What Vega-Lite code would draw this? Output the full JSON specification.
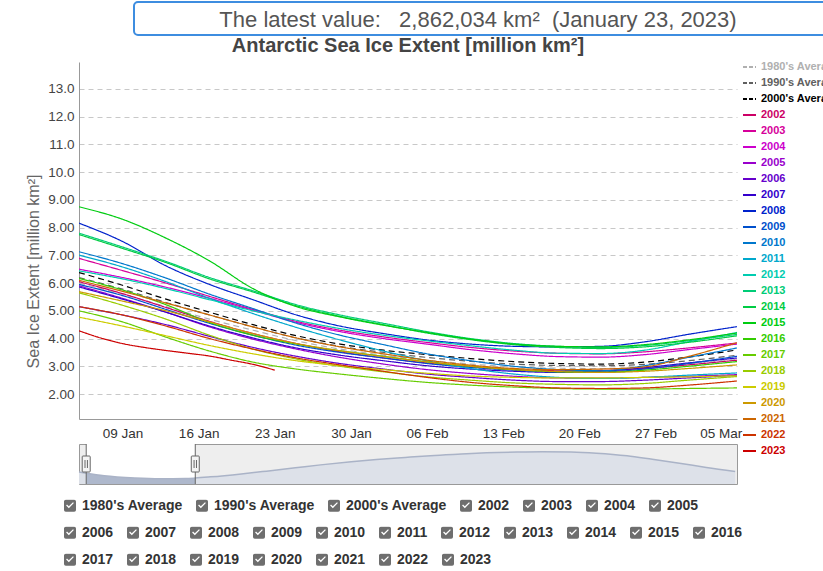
{
"$schema":"https://vega.github.io/schema/vega-lite/v6.json",
"autosize":{"type":"none"},
"padding":{"left":79,"top":2,"right":744,"bottom":569},
"background":"white",
"config":{"font":"Liberation Sans","view":{"stroke":null},"axis":{"labelFont":"Liberation Sans","titleFont":"Liberation Sans"},"legend":{"labelFont":"Liberation Sans"},"title":{"font":"Liberation Sans"},"text":{"font":"Liberation Sans"}},
"datasets":{
"hdr":[{"t":"The latest value:\u00a0\u00a0 2,862,034 km²\u00a0 (January 23, 2023)"}],
"boxes":[{"n":"1980's Average","r":1},{"n":"1990's Average","r":1},{"n":"2000's Average","r":1},{"n":"2002","r":1},{"n":"2003","r":1},{"n":"2004","r":1},{"n":"2005","r":1},{"n":"2006","r":2},{"n":"2007","r":2},{"n":"2008","r":2},{"n":"2009","r":2},{"n":"2010","r":2},{"n":"2011","r":2},{"n":"2012","r":2},{"n":"2013","r":2},{"n":"2014","r":2},{"n":"2015","r":2},{"n":"2016","r":2},{"n":"2017","r":3},{"n":"2018","r":3},{"n":"2019","r":3},{"n":"2020","r":3},{"n":"2021","r":3},{"n":"2022","r":3},{"n":"2023","r":3}],
"win":[{"a":"2023-01-05","b":"2023-03-06T12:00:00Z"}],
"hd":[{"d":"2023-01-05"},{"d":"2023-03-06T12:00:00Z"}],
"clim":[{"d":"2023-01-01","v":6.9},{"d":"2023-01-05","v":6.2},{"d":"2023-01-15","v":4.7},{"d":"2023-02-01","v":3.4},{"d":"2023-02-15","v":2.95},{"d":"2023-03-01","v":3.1},{"d":"2023-03-06T12:00:00Z","v":3.4},{"d":"2023-03-15","v":4.1},{"d":"2023-04-01","v":5.8},{"d":"2023-04-15","v":7.4},{"d":"2023-05-01","v":9.3},{"d":"2023-05-15","v":11.0},{"d":"2023-06-01","v":12.8},{"d":"2023-06-15","v":14.1},{"d":"2023-07-01","v":15.3},{"d":"2023-07-15","v":16.3},{"d":"2023-08-01","v":17.2},{"d":"2023-08-15","v":17.9},{"d":"2023-09-01","v":18.4},{"d":"2023-09-15","v":18.6},{"d":"2023-10-01","v":18.4},{"d":"2023-10-15","v":17.7},{"d":"2023-11-01","v":16.2},{"d":"2023-11-15","v":14.2},{"d":"2023-12-01","v":11.8},{"d":"2023-12-15","v":9.5},{"d":"2023-12-31","v":7.2}],
"ice":[
{"s":"1980's Average","d":"2023-01-05","v":6.00},{"s":"1980's Average","d":"2023-01-09","v":5.60},{"s":"1980's Average","d":"2023-01-13","v":5.15},{"s":"1980's Average","d":"2023-01-17","v":4.70},{"s":"1980's Average","d":"2023-01-21","v":4.30},{"s":"1980's Average","d":"2023-01-25","v":3.92},{"s":"1980's Average","d":"2023-01-29","v":3.62},{"s":"1980's Average","d":"2023-02-02","v":3.40},{"s":"1980's Average","d":"2023-02-06","v":3.22},{"s":"1980's Average","d":"2023-02-10","v":3.08},{"s":"1980's Average","d":"2023-02-14","v":2.98},{"s":"1980's Average","d":"2023-02-18","v":2.93},{"s":"1980's Average","d":"2023-02-22","v":2.92},{"s":"1980's Average","d":"2023-02-26","v":2.97},{"s":"1980's Average","d":"2023-03-02","v":3.08},{"s":"1980's Average","d":"2023-03-06T12:00:00Z","v":3.25},
{"s":"1990's Average","d":"2023-01-05","v":6.20},{"s":"1990's Average","d":"2023-01-09","v":5.78},{"s":"1990's Average","d":"2023-01-13","v":5.30},{"s":"1990's Average","d":"2023-01-17","v":4.85},{"s":"1990's Average","d":"2023-01-21","v":4.42},{"s":"1990's Average","d":"2023-01-25","v":4.02},{"s":"1990's Average","d":"2023-01-29","v":3.72},{"s":"1990's Average","d":"2023-02-02","v":3.50},{"s":"1990's Average","d":"2023-02-06","v":3.32},{"s":"1990's Average","d":"2023-02-10","v":3.18},{"s":"1990's Average","d":"2023-02-14","v":3.08},{"s":"1990's Average","d":"2023-02-18","v":3.03},{"s":"1990's Average","d":"2023-02-22","v":3.02},{"s":"1990's Average","d":"2023-02-26","v":3.07},{"s":"1990's Average","d":"2023-03-02","v":3.20},{"s":"1990's Average","d":"2023-03-06T12:00:00Z","v":3.40},
{"s":"2000's Average","d":"2023-01-05","v":6.38},{"s":"2000's Average","d":"2023-01-09","v":5.92},{"s":"2000's Average","d":"2023-01-13","v":5.42},{"s":"2000's Average","d":"2023-01-17","v":4.95},{"s":"2000's Average","d":"2023-01-21","v":4.50},{"s":"2000's Average","d":"2023-01-25","v":4.10},{"s":"2000's Average","d":"2023-01-29","v":3.80},{"s":"2000's Average","d":"2023-02-02","v":3.58},{"s":"2000's Average","d":"2023-02-06","v":3.42},{"s":"2000's Average","d":"2023-02-10","v":3.28},{"s":"2000's Average","d":"2023-02-14","v":3.17},{"s":"2000's Average","d":"2023-02-18","v":3.10},{"s":"2000's Average","d":"2023-02-22","v":3.08},{"s":"2000's Average","d":"2023-02-26","v":3.15},{"s":"2000's Average","d":"2023-03-02","v":3.33},{"s":"2000's Average","d":"2023-03-06T12:00:00Z","v":3.59},
{"s":"2002","d":"2023-01-05","v":6.05},{"s":"2002","d":"2023-01-09","v":5.62},{"s":"2002","d":"2023-01-13","v":5.12},{"s":"2002","d":"2023-01-17","v":4.62},{"s":"2002","d":"2023-01-21","v":4.18},{"s":"2002","d":"2023-01-25","v":3.82},{"s":"2002","d":"2023-01-29","v":3.52},{"s":"2002","d":"2023-02-02","v":3.30},{"s":"2002","d":"2023-02-06","v":3.12},{"s":"2002","d":"2023-02-10","v":2.98},{"s":"2002","d":"2023-02-14","v":2.88},{"s":"2002","d":"2023-02-18","v":2.84},{"s":"2002","d":"2023-02-22","v":2.85},{"s":"2002","d":"2023-02-26","v":2.92},{"s":"2002","d":"2023-03-02","v":3.05},{"s":"2002","d":"2023-03-06T12:00:00Z","v":3.22},
{"s":"2003","d":"2023-01-05","v":6.89},{"s":"2003","d":"2023-01-09","v":6.45},{"s":"2003","d":"2023-01-13","v":6.00},{"s":"2003","d":"2023-01-17","v":5.52},{"s":"2003","d":"2023-01-21","v":5.05},{"s":"2003","d":"2023-01-25","v":4.62},{"s":"2003","d":"2023-01-29","v":4.30},{"s":"2003","d":"2023-02-02","v":4.06},{"s":"2003","d":"2023-02-06","v":3.86},{"s":"2003","d":"2023-02-10","v":3.68},{"s":"2003","d":"2023-02-14","v":3.55},{"s":"2003","d":"2023-02-18","v":3.47},{"s":"2003","d":"2023-02-22","v":3.45},{"s":"2003","d":"2023-02-26","v":3.52},{"s":"2003","d":"2023-03-02","v":3.66},{"s":"2003","d":"2023-03-06T12:00:00Z","v":3.84},
{"s":"2004","d":"2023-01-05","v":6.50},{"s":"2004","d":"2023-01-09","v":6.20},{"s":"2004","d":"2023-01-13","v":5.85},{"s":"2004","d":"2023-01-17","v":5.45},{"s":"2004","d":"2023-01-21","v":5.02},{"s":"2004","d":"2023-01-25","v":4.58},{"s":"2004","d":"2023-01-29","v":4.25},{"s":"2004","d":"2023-02-02","v":4.00},{"s":"2004","d":"2023-02-06","v":3.80},{"s":"2004","d":"2023-02-10","v":3.60},{"s":"2004","d":"2023-02-14","v":3.45},{"s":"2004","d":"2023-02-18","v":3.35},{"s":"2004","d":"2023-02-22","v":3.33},{"s":"2004","d":"2023-02-26","v":3.42},{"s":"2004","d":"2023-03-02","v":3.60},{"s":"2004","d":"2023-03-06T12:00:00Z","v":3.80},
{"s":"2005","d":"2023-01-05","v":5.90},{"s":"2005","d":"2023-01-09","v":5.45},{"s":"2005","d":"2023-01-13","v":4.95},{"s":"2005","d":"2023-01-17","v":4.42},{"s":"2005","d":"2023-01-21","v":3.98},{"s":"2005","d":"2023-01-25","v":3.62},{"s":"2005","d":"2023-01-29","v":3.32},{"s":"2005","d":"2023-02-02","v":3.08},{"s":"2005","d":"2023-02-06","v":2.88},{"s":"2005","d":"2023-02-10","v":2.74},{"s":"2005","d":"2023-02-14","v":2.64},{"s":"2005","d":"2023-02-18","v":2.58},{"s":"2005","d":"2023-02-22","v":2.57},{"s":"2005","d":"2023-02-26","v":2.60},{"s":"2005","d":"2023-03-02","v":2.64},{"s":"2005","d":"2023-03-06T12:00:00Z","v":2.70},
{"s":"2006","d":"2023-01-05","v":5.15},{"s":"2006","d":"2023-01-09","v":4.85},{"s":"2006","d":"2023-01-13","v":4.50},{"s":"2006","d":"2023-01-17","v":4.08},{"s":"2006","d":"2023-01-21","v":3.68},{"s":"2006","d":"2023-01-25","v":3.36},{"s":"2006","d":"2023-01-29","v":3.10},{"s":"2006","d":"2023-02-02","v":2.90},{"s":"2006","d":"2023-02-06","v":2.72},{"s":"2006","d":"2023-02-10","v":2.60},{"s":"2006","d":"2023-02-14","v":2.50},{"s":"2006","d":"2023-02-18","v":2.45},{"s":"2006","d":"2023-02-22","v":2.45},{"s":"2006","d":"2023-02-26","v":2.50},{"s":"2006","d":"2023-03-02","v":2.58},{"s":"2006","d":"2023-03-06T12:00:00Z","v":2.67},
{"s":"2007","d":"2023-01-05","v":5.86},{"s":"2007","d":"2023-01-09","v":5.42},{"s":"2007","d":"2023-01-13","v":4.95},{"s":"2007","d":"2023-01-17","v":4.45},{"s":"2007","d":"2023-01-21","v":4.02},{"s":"2007","d":"2023-01-25","v":3.66},{"s":"2007","d":"2023-01-29","v":3.40},{"s":"2007","d":"2023-02-02","v":3.20},{"s":"2007","d":"2023-02-06","v":3.02},{"s":"2007","d":"2023-02-10","v":2.90},{"s":"2007","d":"2023-02-14","v":2.82},{"s":"2007","d":"2023-02-18","v":2.78},{"s":"2007","d":"2023-02-22","v":2.82},{"s":"2007","d":"2023-02-26","v":2.95},{"s":"2007","d":"2023-03-02","v":3.12},{"s":"2007","d":"2023-03-06T12:00:00Z","v":3.30},
{"s":"2008","d":"2023-01-05","v":8.16},{"s":"2008","d":"2023-01-09","v":7.50},{"s":"2008","d":"2023-01-13","v":6.62},{"s":"2008","d":"2023-01-17","v":5.95},{"s":"2008","d":"2023-01-21","v":5.40},{"s":"2008","d":"2023-01-25","v":4.85},{"s":"2008","d":"2023-01-29","v":4.45},{"s":"2008","d":"2023-02-02","v":4.18},{"s":"2008","d":"2023-02-06","v":3.95},{"s":"2008","d":"2023-02-10","v":3.80},{"s":"2008","d":"2023-02-14","v":3.72},{"s":"2008","d":"2023-02-18","v":3.70},{"s":"2008","d":"2023-02-22","v":3.72},{"s":"2008","d":"2023-02-26","v":3.88},{"s":"2008","d":"2023-03-02","v":4.15},{"s":"2008","d":"2023-03-06T12:00:00Z","v":4.43},
{"s":"2009","d":"2023-01-05","v":5.95},{"s":"2009","d":"2023-01-09","v":5.55},{"s":"2009","d":"2023-01-13","v":5.05},{"s":"2009","d":"2023-01-17","v":4.55},{"s":"2009","d":"2023-01-21","v":4.12},{"s":"2009","d":"2023-01-25","v":3.76},{"s":"2009","d":"2023-01-29","v":3.50},{"s":"2009","d":"2023-02-02","v":3.30},{"s":"2009","d":"2023-02-06","v":3.10},{"s":"2009","d":"2023-02-10","v":2.96},{"s":"2009","d":"2023-02-14","v":2.86},{"s":"2009","d":"2023-02-18","v":2.80},{"s":"2009","d":"2023-02-22","v":2.80},{"s":"2009","d":"2023-02-26","v":2.90},{"s":"2009","d":"2023-03-02","v":3.10},{"s":"2009","d":"2023-03-06T12:00:00Z","v":3.36},
{"s":"2010","d":"2023-01-05","v":7.13},{"s":"2010","d":"2023-01-09","v":6.70},{"s":"2010","d":"2023-01-13","v":6.18},{"s":"2010","d":"2023-01-17","v":5.60},{"s":"2010","d":"2023-01-21","v":5.08},{"s":"2010","d":"2023-01-25","v":4.55},{"s":"2010","d":"2023-01-29","v":4.12},{"s":"2010","d":"2023-02-02","v":3.78},{"s":"2010","d":"2023-02-06","v":3.45},{"s":"2010","d":"2023-02-10","v":3.20},{"s":"2010","d":"2023-02-14","v":3.00},{"s":"2010","d":"2023-02-18","v":2.88},{"s":"2010","d":"2023-02-22","v":2.84},{"s":"2010","d":"2023-02-26","v":3.02},{"s":"2010","d":"2023-03-02","v":3.32},{"s":"2010","d":"2023-03-06T12:00:00Z","v":3.66},
{"s":"2011","d":"2023-01-05","v":7.01},{"s":"2011","d":"2023-01-09","v":6.58},{"s":"2011","d":"2023-01-13","v":6.05},{"s":"2011","d":"2023-01-17","v":5.45},{"s":"2011","d":"2023-01-21","v":4.90},{"s":"2011","d":"2023-01-25","v":4.40},{"s":"2011","d":"2023-01-29","v":3.95},{"s":"2011","d":"2023-02-02","v":3.55},{"s":"2011","d":"2023-02-06","v":3.20},{"s":"2011","d":"2023-02-10","v":2.92},{"s":"2011","d":"2023-02-14","v":2.72},{"s":"2011","d":"2023-02-18","v":2.60},{"s":"2011","d":"2023-02-22","v":2.56},{"s":"2011","d":"2023-02-26","v":2.60},{"s":"2011","d":"2023-03-02","v":2.68},{"s":"2011","d":"2023-03-06T12:00:00Z","v":2.76},
{"s":"2012","d":"2023-01-05","v":6.44},{"s":"2012","d":"2023-01-09","v":6.15},{"s":"2012","d":"2023-01-13","v":5.80},{"s":"2012","d":"2023-01-17","v":5.40},{"s":"2012","d":"2023-01-21","v":5.00},{"s":"2012","d":"2023-01-25","v":4.66},{"s":"2012","d":"2023-01-29","v":4.36},{"s":"2012","d":"2023-02-02","v":4.12},{"s":"2012","d":"2023-02-06","v":3.92},{"s":"2012","d":"2023-02-10","v":3.74},{"s":"2012","d":"2023-02-14","v":3.58},{"s":"2012","d":"2023-02-18","v":3.47},{"s":"2012","d":"2023-02-22","v":3.46},{"s":"2012","d":"2023-02-26","v":3.58},{"s":"2012","d":"2023-03-02","v":3.88},{"s":"2012","d":"2023-03-06T12:00:00Z","v":4.22},
{"s":"2013","d":"2023-01-05","v":7.80},{"s":"2013","d":"2023-01-09","v":7.30},{"s":"2013","d":"2023-01-13","v":6.78},{"s":"2013","d":"2023-01-17","v":6.20},{"s":"2013","d":"2023-01-21","v":5.72},{"s":"2013","d":"2023-01-25","v":5.22},{"s":"2013","d":"2023-01-29","v":4.85},{"s":"2013","d":"2023-02-02","v":4.55},{"s":"2013","d":"2023-02-06","v":4.25},{"s":"2013","d":"2023-02-10","v":4.00},{"s":"2013","d":"2023-02-14","v":3.82},{"s":"2013","d":"2023-02-18","v":3.72},{"s":"2013","d":"2023-02-22","v":3.68},{"s":"2013","d":"2023-02-26","v":3.75},{"s":"2013","d":"2023-03-02","v":3.92},{"s":"2013","d":"2023-03-06T12:00:00Z","v":4.15},
{"s":"2014","d":"2023-01-05","v":7.75},{"s":"2014","d":"2023-01-09","v":7.25},{"s":"2014","d":"2023-01-13","v":6.74},{"s":"2014","d":"2023-01-17","v":6.15},{"s":"2014","d":"2023-01-21","v":5.68},{"s":"2014","d":"2023-01-25","v":5.18},{"s":"2014","d":"2023-01-29","v":4.80},{"s":"2014","d":"2023-02-02","v":4.50},{"s":"2014","d":"2023-02-06","v":4.20},{"s":"2014","d":"2023-02-10","v":3.96},{"s":"2014","d":"2023-02-14","v":3.78},{"s":"2014","d":"2023-02-18","v":3.68},{"s":"2014","d":"2023-02-22","v":3.64},{"s":"2014","d":"2023-02-26","v":3.70},{"s":"2014","d":"2023-03-02","v":3.86},{"s":"2014","d":"2023-03-06T12:00:00Z","v":4.10},
{"s":"2015","d":"2023-01-05","v":8.75},{"s":"2015","d":"2023-01-09","v":8.30},{"s":"2015","d":"2023-01-13","v":7.62},{"s":"2015","d":"2023-01-17","v":6.80},{"s":"2015","d":"2023-01-21","v":5.80},{"s":"2015","d":"2023-01-25","v":5.15},{"s":"2015","d":"2023-01-29","v":4.78},{"s":"2015","d":"2023-02-02","v":4.48},{"s":"2015","d":"2023-02-06","v":4.22},{"s":"2015","d":"2023-02-10","v":3.98},{"s":"2015","d":"2023-02-14","v":3.80},{"s":"2015","d":"2023-02-18","v":3.72},{"s":"2015","d":"2023-02-22","v":3.70},{"s":"2015","d":"2023-02-26","v":3.78},{"s":"2015","d":"2023-03-02","v":3.95},{"s":"2015","d":"2023-03-06T12:00:00Z","v":4.20},
{"s":"2016","d":"2023-01-05","v":6.17},{"s":"2016","d":"2023-01-09","v":5.75},{"s":"2016","d":"2023-01-13","v":5.22},{"s":"2016","d":"2023-01-17","v":4.58},{"s":"2016","d":"2023-01-21","v":4.12},{"s":"2016","d":"2023-01-25","v":3.80},{"s":"2016","d":"2023-01-29","v":3.56},{"s":"2016","d":"2023-02-02","v":3.36},{"s":"2016","d":"2023-02-06","v":3.16},{"s":"2016","d":"2023-02-10","v":3.00},{"s":"2016","d":"2023-02-14","v":2.88},{"s":"2016","d":"2023-02-18","v":2.80},{"s":"2016","d":"2023-02-22","v":2.78},{"s":"2016","d":"2023-02-26","v":2.86},{"s":"2016","d":"2023-03-02","v":3.00},{"s":"2016","d":"2023-03-06T12:00:00Z","v":3.17},
{"s":"2017","d":"2023-01-05","v":5.00},{"s":"2017","d":"2023-01-09","v":4.60},{"s":"2017","d":"2023-01-13","v":4.05},{"s":"2017","d":"2023-01-17","v":3.55},{"s":"2017","d":"2023-01-21","v":3.15},{"s":"2017","d":"2023-01-25","v":2.90},{"s":"2017","d":"2023-01-29","v":2.72},{"s":"2017","d":"2023-02-02","v":2.56},{"s":"2017","d":"2023-02-06","v":2.42},{"s":"2017","d":"2023-02-10","v":2.32},{"s":"2017","d":"2023-02-14","v":2.25},{"s":"2017","d":"2023-02-18","v":2.20},{"s":"2017","d":"2023-02-22","v":2.18},{"s":"2017","d":"2023-02-26","v":2.18},{"s":"2017","d":"2023-03-02","v":2.20},{"s":"2017","d":"2023-03-06T12:00:00Z","v":2.22},
{"s":"2018","d":"2023-01-05","v":5.65},{"s":"2018","d":"2023-01-09","v":5.20},{"s":"2018","d":"2023-01-13","v":4.70},{"s":"2018","d":"2023-01-17","v":4.12},{"s":"2018","d":"2023-01-21","v":3.62},{"s":"2018","d":"2023-01-25","v":3.26},{"s":"2018","d":"2023-01-29","v":3.00},{"s":"2018","d":"2023-02-02","v":2.80},{"s":"2018","d":"2023-02-06","v":2.62},{"s":"2018","d":"2023-02-10","v":2.50},{"s":"2018","d":"2023-02-14","v":2.40},{"s":"2018","d":"2023-02-18","v":2.35},{"s":"2018","d":"2023-02-22","v":2.33},{"s":"2018","d":"2023-02-26","v":2.38},{"s":"2018","d":"2023-03-02","v":2.50},{"s":"2018","d":"2023-03-06T12:00:00Z","v":2.63},
{"s":"2019","d":"2023-01-05","v":4.77},{"s":"2019","d":"2023-01-09","v":4.45},{"s":"2019","d":"2023-01-13","v":4.10},{"s":"2019","d":"2023-01-17","v":3.75},{"s":"2019","d":"2023-01-21","v":3.45},{"s":"2019","d":"2023-01-25","v":3.20},{"s":"2019","d":"2023-01-29","v":3.02},{"s":"2019","d":"2023-02-02","v":2.88},{"s":"2019","d":"2023-02-06","v":2.75},{"s":"2019","d":"2023-02-10","v":2.65},{"s":"2019","d":"2023-02-14","v":2.60},{"s":"2019","d":"2023-02-18","v":2.58},{"s":"2019","d":"2023-02-22","v":2.58},{"s":"2019","d":"2023-02-26","v":2.60},{"s":"2019","d":"2023-03-02","v":2.62},{"s":"2019","d":"2023-03-06T12:00:00Z","v":2.66},
{"s":"2020","d":"2023-01-05","v":5.69},{"s":"2020","d":"2023-01-09","v":5.35},{"s":"2020","d":"2023-01-13","v":5.00},{"s":"2020","d":"2023-01-17","v":4.60},{"s":"2020","d":"2023-01-21","v":4.18},{"s":"2020","d":"2023-01-25","v":3.82},{"s":"2020","d":"2023-01-29","v":3.56},{"s":"2020","d":"2023-02-02","v":3.35},{"s":"2020","d":"2023-02-06","v":3.16},{"s":"2020","d":"2023-02-10","v":3.00},{"s":"2020","d":"2023-02-14","v":2.88},{"s":"2020","d":"2023-02-18","v":2.81},{"s":"2020","d":"2023-02-22","v":2.78},{"s":"2020","d":"2023-02-26","v":2.82},{"s":"2020","d":"2023-03-02","v":2.92},{"s":"2020","d":"2023-03-06T12:00:00Z","v":3.05},
{"s":"2021","d":"2023-01-05","v":6.10},{"s":"2021","d":"2023-01-09","v":5.70},{"s":"2021","d":"2023-01-13","v":5.28},{"s":"2021","d":"2023-01-17","v":4.85},{"s":"2021","d":"2023-01-21","v":4.42},{"s":"2021","d":"2023-01-25","v":4.02},{"s":"2021","d":"2023-01-29","v":3.70},{"s":"2021","d":"2023-02-02","v":3.45},{"s":"2021","d":"2023-02-06","v":3.22},{"s":"2021","d":"2023-02-10","v":3.04},{"s":"2021","d":"2023-02-14","v":2.92},{"s":"2021","d":"2023-02-18","v":2.88},{"s":"2021","d":"2023-02-22","v":2.90},{"s":"2021","d":"2023-02-26","v":2.98},{"s":"2021","d":"2023-03-02","v":3.35},{"s":"2021","d":"2023-03-06T12:00:00Z","v":3.85},
{"s":"2022","d":"2023-01-05","v":5.15},{"s":"2022","d":"2023-01-09","v":4.85},{"s":"2022","d":"2023-01-13","v":4.45},{"s":"2022","d":"2023-01-17","v":4.00},{"s":"2022","d":"2023-01-21","v":3.62},{"s":"2022","d":"2023-01-25","v":3.30},{"s":"2022","d":"2023-01-29","v":3.05},{"s":"2022","d":"2023-02-02","v":2.82},{"s":"2022","d":"2023-02-06","v":2.60},{"s":"2022","d":"2023-02-10","v":2.42},{"s":"2022","d":"2023-02-14","v":2.30},{"s":"2022","d":"2023-02-18","v":2.22},{"s":"2022","d":"2023-02-22","v":2.20},{"s":"2022","d":"2023-02-26","v":2.22},{"s":"2022","d":"2023-03-02","v":2.32},{"s":"2022","d":"2023-03-06T12:00:00Z","v":2.47},
{"s":"2023","d":"2023-01-05","v":4.28},{"s":"2023","d":"2023-01-07","v":4.02},{"s":"2023","d":"2023-01-09","v":3.82},{"s":"2023","d":"2023-01-11","v":3.68},{"s":"2023","d":"2023-01-13","v":3.57},{"s":"2023","d":"2023-01-15","v":3.47},{"s":"2023","d":"2023-01-17","v":3.37},{"s":"2023","d":"2023-01-19","v":3.22},{"s":"2023","d":"2023-01-21","v":3.07},{"s":"2023","d":"2023-01-23","v":2.862}
]},
"spacing":60,
"bounds":"flush",
"vconcat":[
{"hconcat":[
 {"width":35,"height":33,"data":{"values":[{"t":""}]},"mark":{"type":"text"},"encoding":{"text":{"field":"t","type":"nominal"}}},
 {"width":700,"height":33,"view":{"stroke":"#3d8de0","strokeWidth":2,"cornerRadius":4,"fill":"white"},"data":{"name":"hdr"},"mark":{"type":"text","fontSize":22,"color":"#555555","dx":-6,"dy":1,"baseline":"middle"},"encoding":{"text":{"field":"t","type":"nominal"}}}
],"spacing":20,"bounds":"flush"},
{"vconcat":[
{"width":658,"height":357,
 "title":{"text":"Antarctic Sea Ice Extent [million km²]","fontSize":20,"fontWeight":"bold","color":"#444444","anchor":"middle","offset":6},
 "layer":[
  {"data":{"name":"ice"},"mark":{"type":"line","interpolate":"monotone","strokeWidth":1.2,"clip":true},
   "encoding":{
    "x":{"field":"d","type":"temporal","scale":{"type":"utc","nice":false,"domain":[{"year":2023,"month":1,"date":5,"utc":true},{"year":2023,"month":3,"date":6,"hours":12,"utc":true}]},
      "axis":{"title":null,"format":"%d %b","grid":false,"ticks":false,"domainColor":"#999999","labelFontSize":13.5,"labelColor":"#333333","labelPadding":7,
        "values":[{"year":2023,"month":1,"date":9,"utc":true},{"year":2023,"month":1,"date":16,"utc":true},{"year":2023,"month":1,"date":23,"utc":true},{"year":2023,"month":1,"date":30,"utc":true},{"year":2023,"month":2,"date":6,"utc":true},{"year":2023,"month":2,"date":13,"utc":true},{"year":2023,"month":2,"date":20,"utc":true},{"year":2023,"month":2,"date":27,"utc":true},{"year":2023,"month":3,"date":5,"utc":true}]}},
    "y":{"field":"v","type":"quantitative","scale":{"domain":[1.1,13.97],"nice":false,"zero":false},
      "axis":{"title":"Sea Ice Extent [million km²]","values":[2,3,4,5,6,7,8,9,10,11,12,13],"format":".3g","grid":true,"gridDash":[5,4],"gridColor":"#c8c8c8","ticks":false,"domainColor":"#999999","labelFontSize":13.5,"labelColor":"#444444","labelPadding":5,"titleFontSize":16,"titleFontWeight":"normal","titleColor":"#666666","titlePadding":6,"titleY":209}},
    "color":{"field":"s","type":"nominal",
      "scale":{"domain":["1980's Average","1990's Average","2000's Average","2002","2003","2004","2005","2006","2007","2008","2009","2010","2011","2012","2013","2014","2015","2016","2017","2018","2019","2020","2021","2022","2023"],
       "range":["#b0b0b0","#606060","#000000","#cc0066","#d6009a","#cc00cc","#9900cc","#6600cc","#3300cc","#0022cc","#0050cc","#0077cc","#00a8cc","#00ccb0","#00cc77","#00cc44","#00cc11","#33cc00","#66cc00","#99cc00","#cccc00","#cc9900","#cc6600","#cc3300","#cc0000"]},
      "legend":{"orient":"none","legendX":663,"legendY":59,"direction":"vertical","title":null,"symbolType":"stroke","symbolSize":169,"symbolStrokeWidth":2,"labelFontSize":11,"labelFontWeight":"bold","rowPadding":4,"clipHeight":12,"labelOffset":4,"padding":0,"labelLimit":300,
        "labelColor":{"expr":"scale('color', datum.value)"},
        "symbolDash":{"expr":"indexof(datum.value, 'Average') >= 0 ? [4, 2] : [1, 0]"}}},
    "strokeDash":{"condition":{"test":"indexof(datum.s, 'Average') >= 0","value":[6,4]},"value":[1,0]}
   }},
  {"data":{"name":"boxes"},"transform":[{"filter":"datum.r == 1"}],"mark":{"type":"point","filled":true,"color":"#6e6e6e","opacity":0,"size":0},
   "encoding":{"shape":{"field":"n","type":"nominal","scale":{"range":["M-1,-0.7Q-1,-1 -0.7,-1H0.7Q1,-1 1,-0.7V0.7Q1,1 0.7,1H-0.7Q-1,1 -1,0.7Z M-0.65,-0.05L-0.2,0.4L0.65,-0.45L0.5,-0.6L-0.2,0.1L-0.5,-0.2Z"]},
     "legend":{"orient":"none","legendX":-16,"legendY":497,"direction":"horizontal","title":null,"labelFontSize":14,"labelFontWeight":"bold","labelColor":"#333333","labelOffset":5,"columnPadding":12,"symbolSize":144,"symbolOpacity":1,"symbolStrokeWidth":0,"symbolFillColor":"#6e6e6e","clipHeight":13,"padding":0,"labelLimit":300}}}},
  {"data":{"name":"boxes"},"transform":[{"filter":"datum.r == 2"}],"mark":{"type":"point","filled":true,"opacity":0,"size":0},
   "encoding":{"fill":{"field":"n","type":"nominal","scale":{"range":["#6e6e6e"]},
     "legend":{"orient":"none","legendX":-16,"legendY":524,"direction":"horizontal","title":null,"labelFontSize":14,"labelFontWeight":"bold","labelColor":"#333333","labelOffset":5,"columnPadding":12,"symbolSize":144,"symbolOpacity":1,"symbolStrokeWidth":0,"symbolType":"M-1,-0.7Q-1,-1 -0.7,-1H0.7Q1,-1 1,-0.7V0.7Q1,1 0.7,1H-0.7Q-1,1 -1,0.7Z M-0.65,-0.05L-0.2,0.4L0.65,-0.45L0.5,-0.6L-0.2,0.1L-0.5,-0.2Z","clipHeight":13,"padding":0,"labelLimit":300}}}},
  {"data":{"name":"boxes"},"transform":[{"filter":"datum.r == 3"}],"mark":{"type":"point","filled":true,"color":"#6e6e6e","opacity":0},
   "encoding":{"size":{"field":"n","type":"ordinal","scale":{"range":[144,144]},
     "legend":{"orient":"none","legendX":-16,"legendY":551,"direction":"horizontal","title":null,"labelFontSize":14,"labelFontWeight":"bold","labelColor":"#333333","labelOffset":5,"columnPadding":12,"symbolOpacity":1,"symbolStrokeWidth":0,"symbolFillColor":"#6e6e6e","symbolType":"M-1,-0.7Q-1,-1 -0.7,-1H0.7Q1,-1 1,-0.7V0.7Q1,1 0.7,1H-0.7Q-1,1 -1,0.7Z M-0.65,-0.05L-0.2,0.4L0.65,-0.45L0.5,-0.6L-0.2,0.1L-0.5,-0.2Z","clipHeight":13,"padding":0,"labelLimit":300}}}}
 ]},
{"width":658,"height":40,"view":{"fill":"#eeeeee","stroke":"#999999"},
 "layer":[
  {"data":{"name":"win"},"mark":{"type":"rect","color":"#ffffff"},
   "encoding":{"x":{"field":"a","type":"temporal","scale":{"type":"utc","nice":false,"domain":[{"year":2023,"month":1,"date":1,"utc":true},{"year":2024,"month":1,"date":1,"utc":true}]},"axis":null},"x2":{"field":"b"}}},
  {"data":{"name":"clim"},"mark":{"type":"area","color":"#dde1e9","interpolate":"monotone"},
   "encoding":{"x":{"field":"d","type":"temporal"},"y":{"field":"v","type":"quantitative","scale":{"domain":[0,23],"nice":false},"axis":null}}},
  {"data":{"name":"clim"},"transform":[{"filter":{"field":"d","range":[{"year":2023,"month":1,"date":5,"utc":true},{"year":2023,"month":3,"date":6,"hours":12,"utc":true}]}}],"mark":{"type":"area","color":"#aeb8cc","interpolate":"monotone"},
   "encoding":{"x":{"field":"d","type":"temporal"},"y":{"field":"v","type":"quantitative"}}},
  {"data":{"name":"clim"},"mark":{"type":"line","color":"#aab3c7","strokeWidth":1.5,"interpolate":"monotone"},
   "encoding":{"x":{"field":"d","type":"temporal"},"y":{"field":"v","type":"quantitative"}}},
  {"data":{"name":"hd"},"mark":{"type":"rule","color":"#666666","strokeWidth":1},"encoding":{"x":{"field":"d","type":"temporal"}}},
  {"data":{"name":"hd"},"mark":{"type":"point","shape":"M-0.5,-0.9Q-0.5,-1 -0.4,-1H0.4Q0.5,-1 0.5,-0.9V0.9Q0.5,1 0.4,1H-0.4Q-0.5,1 -0.5,0.9Z M-0.15,-0.5V0.5 M0.15,-0.5V0.5","size":256,"filled":true,"fill":"#f4f4f4","stroke":"#666666","strokeWidth":1,"opacity":1},
   "encoding":{"x":{"field":"d","type":"temporal"}}}
 ]}
],"spacing":25,"bounds":"flush"}
]
}
